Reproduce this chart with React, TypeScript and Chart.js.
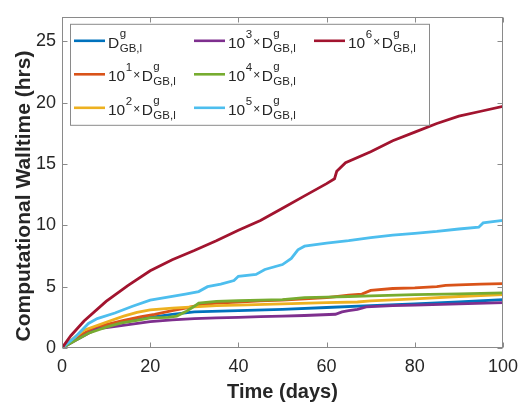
import { useEffect, useRef } from 'react';
import { Chart, registerables } from 'chart.js';

Chart.register(...registerables);

// ---- data (days, hours) ----
const d0Days = [0, 3, 6, 10, 15, 20, 25, 30, 40, 50, 60, 70, 80, 90, 100];
const d0Hrs = [0, 0.7, 1.3, 1.8, 2.2, 2.5, 2.75, 2.95, 3.05, 3.15, 3.3, 3.45, 3.6, 3.75, 3.95];

const d1Days = [0, 3, 6, 10, 14, 18, 21, 25, 28, 31, 35, 40, 45, 50, 55, 60, 65, 68, 70, 75, 80, 85, 87, 90, 95, 100];
const d1Hrs = [0, 0.8, 1.4, 1.9, 2.25, 2.55, 2.75, 3.05, 3.25, 3.5, 3.65, 3.75, 3.85, 3.9, 4.0, 4.1, 4.3, 4.4, 4.7, 4.85, 4.9, 5.0, 5.1, 5.15, 5.2, 5.25];

const d2Days = [0, 3, 5, 10, 14, 17, 20, 25, 30, 35, 40, 50, 60, 67, 70, 80, 90, 100];
const d2Hrs = [0, 0.9, 1.45, 2.1, 2.6, 2.9, 3.1, 3.25, 3.35, 3.45, 3.5, 3.6, 3.7, 3.75, 3.85, 4.0, 4.2, 4.35];

const d3Days = [0, 3, 6, 8, 13, 20, 25, 30, 35, 40, 45, 50, 55, 62, 63.5, 65, 67, 69, 75, 80, 90, 100];
const d3Hrs = [0, 0.6, 1.2, 1.55, 1.8, 2.15, 2.3, 2.4, 2.45, 2.5, 2.55, 2.6, 2.65, 2.75, 2.95, 3.05, 3.15, 3.35, 3.45, 3.5, 3.6, 3.7];

const d4Days = [0, 3, 6, 10, 13.5, 17, 20, 24, 26, 28, 30, 31, 35, 40, 45, 50, 55, 60, 65, 70, 80, 90, 100];
const d4Hrs = [0, 0.6, 1.2, 1.7, 2.05, 2.25, 2.45, 2.5, 2.6, 2.95, 3.4, 3.65, 3.8, 3.85, 3.9, 3.95, 4.1, 4.15, 4.2, 4.25, 4.35, 4.42, 4.5];

const d5Days = [0, 3, 6, 8, 12, 16, 20, 25, 28, 31, 33, 36, 39, 40, 44, 46, 50, 52, 53.5, 55, 60, 65, 70, 75, 80, 85, 90, 94.5, 95.5, 100];
const d5Hrs = [0, 0.9, 2.0, 2.4, 2.85, 3.4, 3.9, 4.2, 4.4, 4.6, 5.0, 5.2, 5.5, 5.85, 6.0, 6.4, 6.8, 7.3, 8.0, 8.3, 8.55, 8.75, 9.0, 9.2, 9.35, 9.5, 9.7, 9.85, 10.2, 10.4];

const d6Days = [0, 2, 5, 10, 15, 20, 25, 30, 35, 40, 45, 50, 55, 60, 61.8, 62.3, 64.3, 70, 75, 80, 85, 90, 95, 100];
const d6Hrs = [0, 1.0, 2.2, 3.8, 5.1, 6.3, 7.2, 7.95, 8.75, 9.6, 10.4, 11.4, 12.4, 13.4, 13.8, 14.4, 15.1, 16.0, 16.9, 17.6, 18.3, 18.9, 19.3, 19.7];

const seriesDays = [d0Days, d1Days, d2Days, d3Days, d4Days, d5Days, d6Days];
const seriesHrs = [d0Hrs, d1Hrs, d2Hrs, d3Hrs, d4Hrs, d5Hrs, d6Hrs];
const seriesExponents: (number | null)[] = [null, 1, 2, 3, 4, 5, 6];
const seriesColors = ['#0072BD', '#D95319', '#EDB120', '#7E2F8E', '#77AC30', '#4DBEEE', '#A2142F'];

const xTickStep = 20;
const yTickStep = 5;
const xMax = 100;
const yMax = 27;
const xTitle = 'Time (days)';
const yTitle = 'Computational Walltime (hrs)';

const FONT = '"Liberation Sans", Arial, Helvetica, sans-serif';
const TEXT = '#262626';
const AXIS = '#8a8a8a';

function seriesLabel(exp: number | null) {
  return exp === null ? 'D^g_GB,l' : `10^${exp}×D^g_GB,l`;
}

function drawLegendLabel(ctx: CanvasRenderingContext2D, x: number, b: number, exp: number | null) {
  const main = `15.5px ${FONT}`;
  const small = `11.5px ${FONT}`;
  ctx.fillStyle = TEXT;
  ctx.textAlign = 'left';
  ctx.textBaseline = 'alphabetic';
  let cx = x;
  if (exp !== null) {
    ctx.font = main;
    ctx.fillText('10', cx, b);
    cx += ctx.measureText('10').width;
    ctx.font = small;
    ctx.fillText(String(exp), cx + 0.5, b - 10);
    cx += ctx.measureText(String(exp)).width + 1.5;
    ctx.font = `12px ${FONT}`;
    ctx.fillText('×', cx, b - 2);
    cx += ctx.measureText('×').width + 1.5;
  }
  ctx.font = main;
  ctx.fillText('D', cx, b);
  cx += ctx.measureText('D').width;
  ctx.font = small;
  ctx.fillText('g', cx + 0.5, b - 11);
  ctx.fillText('GB,l', cx + 0.5, b + 4);
}

const framePlugin = {
  id: 'matlabFrame',
  afterDraw(chart: any) {
    const { ctx, chartArea: a, scales } = chart;
    ctx.save();
    // frame
    ctx.strokeStyle = AXIS;
    ctx.lineWidth = 1;
    const L = Math.round(a.left) + 0.5;
    const R = Math.round(a.right) - 0.5;
    const T = Math.round(a.top) + 0.5;
    const B = Math.round(a.bottom) - 0.5;
    ctx.strokeRect(L, T, R - L, B - T);
    const tl = 5;
    ctx.beginPath();
    for (const t of scales.x.ticks) {
      const px = Math.round(scales.x.getPixelForValue(t.value)) + 0.5;
      ctx.moveTo(px, B); ctx.lineTo(px, B - tl);
      ctx.moveTo(px, T); ctx.lineTo(px, T + tl);
    }
    for (const t of scales.y.ticks) {
      const py = Math.round(scales.y.getPixelForValue(t.value)) + 0.5;
      ctx.moveTo(L, py); ctx.lineTo(L + tl, py);
      ctx.moveTo(R, py); ctx.lineTo(R - tl, py);
    }
    ctx.stroke();

    // axis titles
    ctx.fillStyle = TEXT;
    ctx.font = `bold 20px ${FONT}`;
    ctx.textAlign = 'center';
    ctx.textBaseline = 'middle';
    ctx.fillText(xTitle, (a.left + a.right) / 2, 392);
    ctx.save();
    ctx.translate(24, 196);
    ctx.rotate(-Math.PI / 2);
    ctx.font = `bold 21px ${FONT}`;
    ctx.fillText(yTitle, 0, 0);
    ctx.restore();

    // legend
    const bx = a.left + 8;
    const by = a.top + 7;
    const bw = 359;
    const bh = 101;
    ctx.fillStyle = '#ffffff';
    ctx.fillRect(bx, by, bw, bh);
    ctx.strokeStyle = AXIS;
    ctx.lineWidth = 1;
    ctx.strokeRect(bx + 0.5, by + 0.5, bw, bh);
    seriesExponents.forEach((exp, i) => {
      const col = Math.floor(i / 3);
      const row = i % 3;
      const lx = bx + 4 + col * 120;
      const ly = by + 17 + row * 33.5;
      ctx.strokeStyle = seriesColors[i];
      ctx.lineWidth = 2.6;
      ctx.beginPath();
      ctx.moveTo(lx, ly);
      ctx.lineTo(lx + 31, ly);
      ctx.stroke();
      drawLegendLabel(ctx, lx + 34, ly + 7, exp);
    });
    ctx.restore();
  },
};

export default function App() {
  const ref = useRef<HTMLCanvasElement>(null);
  useEffect(() => {
    document.body.style.margin = '0';
    const canvas = ref.current;
    if (!canvas) return;
    const datasets = seriesDays.map((days, i) => ({
      label: seriesLabel(seriesExponents[i]),
      data: days.map((d, j) => ({ x: d, y: seriesHrs[i][j] })),
      borderColor: seriesColors[i],
      backgroundColor: seriesColors[i],
      borderWidth: 2.8,
      pointRadius: 0,
      tension: 0,
      fill: false,
      order: seriesDays.length - 1 - i,
    }));
    const chart = new Chart(canvas, {
      type: 'line',
      data: { datasets },
      options: {
        animation: false,
        responsive: false,
        devicePixelRatio: 1,
        layout: { padding: { left: 0, right: 19, top: 7, bottom: 0 } },
        plugins: { legend: { display: false }, tooltip: { enabled: false } },
        scales: {
          x: {
            type: 'linear',
            min: 0,
            max: xMax,
            ticks: { stepSize: xTickStep, autoSkip: false, maxRotation: 0, padding: 8, color: TEXT, font: { family: FONT, size: 18 } },
            grid: { display: false, drawTicks: false },
            border: { display: false },
            afterFit: (s: any) => { s.height = 58; },
          },
          y: {
            type: 'linear',
            min: 0,
            max: yMax,
            ticks: { stepSize: yTickStep, padding: 6, color: TEXT, font: { family: FONT, size: 18 } },
            grid: { display: false, drawTicks: false },
            border: { display: false },
            afterBuildTicks: (s: any) => { s.ticks = s.ticks.filter((t: any) => t.value % yTickStep === 0); },
            afterFit: (s: any) => { s.width = 62; },
          },
        },
      },
      plugins: [framePlugin],
    });
    return () => chart.destroy();
  }, []);
  return (
    <div style={{ position: 'fixed', left: 0, top: 0, width: 526, height: 406, background: '#fff' }}>
      <canvas ref={ref} width={526} height={406} />
    </div>
  );
}
